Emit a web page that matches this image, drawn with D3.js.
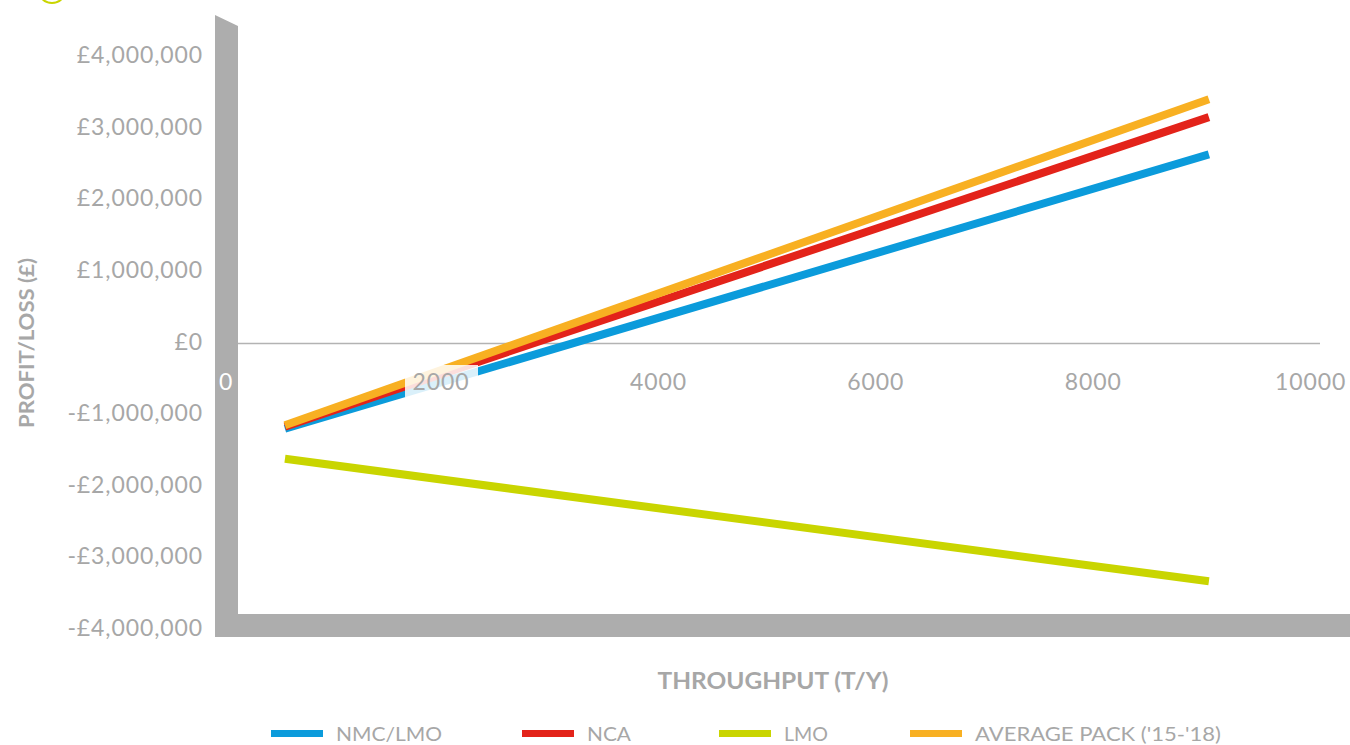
<!DOCTYPE html>
<html>
<head>
<meta charset="utf-8">
<script src="https://cdn.jsdelivr.net/npm/d3@7/dist/d3.min.js"></script>
<style>
  html, body { margin: 0; padding: 0; background: #fff; }
  svg { display: block; font-family: Lato, "Open Sans", sans-serif; }
</style>
</head>
<body>
<svg id="chart" width="1350" height="745"></svg>
<script>
// Throughput (tonnes per year) at the two ends of each modelled line
const throughput = [500, 9000];

// Profit / loss in GBP for each chemistry
const nmcLmo  = [-1190000, 2640000];
const nca     = [-1160000, 3160000];
const lmo     = [-1610000, -3320000];
const avgPack = [-1140000, 3410000];

const seriesNames  = ["NMC/LMO", "NCA", "LMO", "AVERAGE PACK ('15-'18)"];
const seriesColors = ["#0b9bdb", "#e3231a", "#c9d500", "#f8b022"];

const yTicks = [4000000, 3000000, 2000000, 1000000, 0, -1000000, -2000000, -3000000, -4000000];
const xTicks = [0, 2000, 4000, 6000, 8000, 10000];

const svg = d3.select("#chart");
const grey = "#adadad";
const textGrey = "#a7a7a7";

const x = d3.scaleLinear().domain([0, 10000]).range([230.6, 1317.6]);
const y = d3.scaleLinear().domain([-4000000, 4000000]).range([630, 57]);

// small decorative ring clipped at the top-left corner
svg.append("ellipse")
  .attr("cx", 52).attr("cy", -9).attr("rx", 13).attr("ry", 12)
  .attr("fill", "none").attr("stroke", "#c9d500").attr("stroke-width", 2);

// wall and floor of the chart frame
svg.append("path")
  .attr("d", "M215,15 L238,26 L238,614 L1350,614 L1350,637 L215,637 Z")
  .attr("fill", grey);

// zero line
svg.append("line")
  .attr("x1", 238).attr("x2", 1320)
  .attr("y1", y(0)).attr("y2", y(0))
  .attr("stroke", "#b3b3b3").attr("stroke-width", 1.5);

// y tick labels
const money = d3.format(",");
svg.append("g").selectAll("text")
  .data(yTicks)
  .join("text")
  .attr("x", 203)
  .attr("y", d => y(d) + 6)
  .attr("text-anchor", "end")
  .attr("font-size", 23)
  .attr("letter-spacing", 0.9)
  .attr("fill", textGrey)
  .text(d => (d < 0 ? "-£" : "£") + money(Math.abs(d)));

// series lines
const series = [nmcLmo, nca, lmo, avgPack];
const drawOrder = [2, 0, 1, 3];
const line = d3.line().x((d, i) => x(throughput[i])).y(d => y(d));
svg.append("g").selectAll("path")
  .data(drawOrder)
  .join("path")
  .attr("d", k => line(series[k]))
  .attr("fill", "none")
  .attr("stroke", k => seriesColors[k])
  .attr("stroke-width", 8)
  .attr("stroke-linecap", "butt");

// x tick labels (positive ticks sit on a translucent white backing)
const xg = svg.append("g");
xTicks.forEach(v => {
  const cx = v === 0 ? 226 : x(v) - 7;
  if (v > 0) {
    xg.append("rect")
      .attr("x", cx - 36).attr("y", 365)
      .attr("width", 73).attr("height", 32)
      .attr("fill", "#fff").attr("fill-opacity", 0.85);
  }
  xg.append("text")
    .attr("x", cx).attr("y", 390)
    .attr("text-anchor", "middle")
    .attr("font-size", 23)
    .attr("letter-spacing", 0.9)
    .attr("fill", v === 0 ? "#fff" : textGrey)
    .text(v);
});

// axis titles
svg.append("text")
  .attr("transform", "translate(34,343) rotate(-90)")
  .attr("text-anchor", "middle")
  .attr("font-size", 21)
  .attr("font-weight", 700)
  .attr("fill", textGrey)
  .attr("textLength", 170)
  .attr("lengthAdjust", "spacingAndGlyphs")
  .text("PROFIT/LOSS (£)");

svg.append("text")
  .attr("x", 773).attr("y", 689)
  .attr("text-anchor", "middle")
  .attr("font-size", 22)
  .attr("font-weight", 700)
  .attr("fill", textGrey)
  .attr("textLength", 231)
  .attr("lengthAdjust", "spacingAndGlyphs")
  .text("THROUGHPUT (T/Y)");

// legend
const legendSwatchX = [271, 522, 719, 910];
const legendTextW = [106, 44, 44, 246];
const lg = svg.append("g");
seriesNames.forEach((name, i) => {
  lg.append("rect")
    .attr("x", legendSwatchX[i]).attr("y", 730)
    .attr("width", 52).attr("height", 7)
    .attr("fill", seriesColors[i]);
  lg.append("text")
    .attr("x", legendSwatchX[i] + 65).attr("y", 741)
    .attr("font-size", 20)
    .attr("fill", textGrey)
    .attr("textLength", legendTextW[i])
    .attr("lengthAdjust", "spacingAndGlyphs")
    .text(name);
});
</script>
</body>
</html>
